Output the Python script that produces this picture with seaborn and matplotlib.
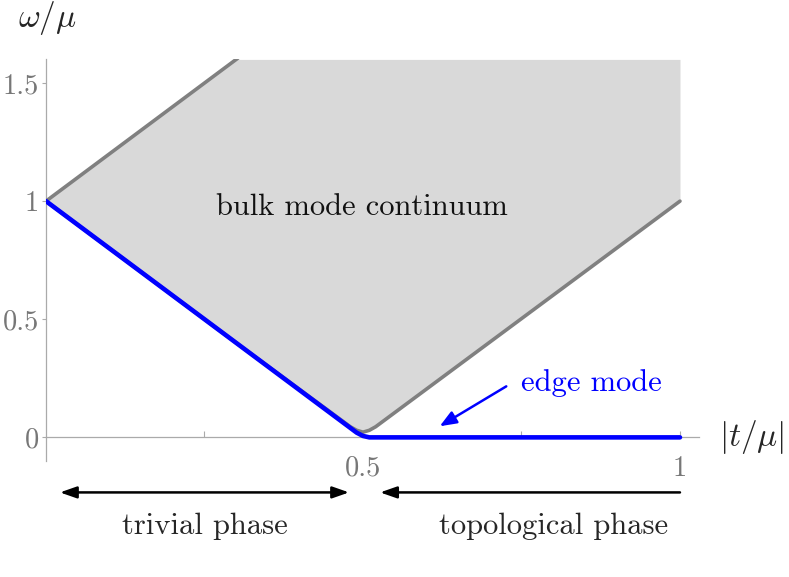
import matplotlib
matplotlib.use("Agg")
import matplotlib.pyplot as plt
import seaborn as sns
import pandas as pd

# ---- data ----
bulk_x = [0.0, 0.30, 0.48, 0.49, 0.50, 0.51, 0.52, 1.0]
bulk_lower = [1.0, 0.40, 0.045, 0.03, 0.022, 0.03, 0.045, 1.0]
bulk_upper = [1.0, 1.60, 1.60, 1.60, 1.60, 1.60, 1.60, 1.60]
upper_edge_x = [0.0, 0.303]
upper_edge_y = [1.0, 1.606]
edge_x = [0.0, 0.49, 0.50, 0.51, 1.0]
edge_y = [1.0, 0.02, 0.006, 0.0, 0.0]
x_ticks = [0.25, 0.5, 0.75, 1.0]
x_tick_labels = ["", "0.5", "", "1"]
y_ticks = [0.0, 0.5, 1.0, 1.5]
y_tick_labels = ["0", "0.5", "1", "1.5"]

sns.set_style("white")
plt.rcParams["font.family"] = ["cmr10", "DejaVu Serif"]
plt.rcParams["mathtext.fontset"] = "cm"
plt.rcParams["axes.unicode_minus"] = False

W, H = 789, 577
fig = plt.figure(figsize=(W / 100, H / 100), dpi=100)
ax = fig.add_axes([46 / W, 116 / H, (699 - 46) / W, (461 - 59.4) / H])

gray_line = "#808080"
ax.fill_between(bulk_x, bulk_lower, bulk_upper, color="#d9d9d9", lw=0, zorder=1)

df_low = pd.DataFrame({"x": bulk_x, "y": bulk_lower})
df_up = pd.DataFrame({"x": upper_edge_x, "y": upper_edge_y})
df_edge = pd.DataFrame({"x": edge_x, "y": edge_y})
sns.lineplot(data=df_low, x="x", y="y", ax=ax, color=gray_line, lw=2.6,
             sort=False, estimator=None, zorder=3)
sns.lineplot(data=df_up, x="x", y="y", ax=ax, color=gray_line, lw=2.6,
             sort=False, estimator=None, zorder=3)
sns.lineplot(data=df_edge, x="x", y="y", ax=ax, color="#0000ff", lw=3.3,
             sort=False, estimator=None, zorder=4)

ax.set_xlim(0, 1.03)
ax.set_ylim(-0.1, 1.6)
ax.set_xlabel("")
ax.set_ylabel("")

for s in ["top", "right"]:
    ax.spines[s].set_visible(False)
ax.spines["bottom"].set_position(("data", 0))
for s in ["left", "bottom"]:
    ax.spines[s].set_color("#aaaaaa")
    ax.spines[s].set_linewidth(0.9)

ax.set_xticks(x_ticks)
ax.set_xticklabels(x_tick_labels)
ax.set_yticks(y_ticks)
ax.set_yticklabels(y_tick_labels)
ax.tick_params(axis="x", direction="in", length=4, width=0.8, color="#aaaaaa",
               pad=13, labelsize=20.5, labelcolor="#777777")
ax.tick_params(axis="y", direction="out", length=3, width=0.8, color="#aaaaaa",
               pad=2, labelsize=20.5, labelcolor="#777777")
ax.tick_params(bottom=True, left=True)

# axis labels
ax.text(0.002, 1.775, r"$\omega/\mu$", fontsize=24, ha="center", va="center",
        clip_on=False)
ax.text(1.113, 0.0, r"$|t/\mu|$", fontsize=24, ha="center", va="center",
        clip_on=False)

# annotations
ax.text(0.498, 0.975, "bulk mode continuum", fontsize=22, ha="center",
        va="center", color="#111111", zorder=5)
ax.text(0.861, 0.229, "edge mode", fontsize=22, ha="center", va="center",
        color="#0000ff", zorder=5)
ax.annotate("", xy=(0.621, 0.047), xytext=(0.726, 0.216),
            arrowprops=dict(arrowstyle="-|>,head_length=1.0,head_width=0.4",
                            color="#0000ff", lw=1.8, shrinkA=0, shrinkB=0),
            zorder=5)

ax.annotate("", xy=(0.022, -0.233), xytext=(0.478, -0.233), annotation_clip=False,
            arrowprops=dict(arrowstyle="<|-|>,head_length=1.0,head_width=0.35",
                            color="black", lw=1.8, shrinkA=0, shrinkB=0))
ax.annotate("", xy=(0.527, -0.233), xytext=(1.0, -0.233), annotation_clip=False,
            arrowprops=dict(arrowstyle="-|>,head_length=1.0,head_width=0.35",
                            color="black", lw=1.8, shrinkA=0, shrinkB=0))
ax.text(0.251, -0.375, "trivial phase", fontsize=22, ha="center", va="center",
        clip_on=False)
ax.text(0.800, -0.375, "topological phase", fontsize=22, ha="center",
        va="center", clip_on=False)

fig.savefig("out.png", dpi=100)
